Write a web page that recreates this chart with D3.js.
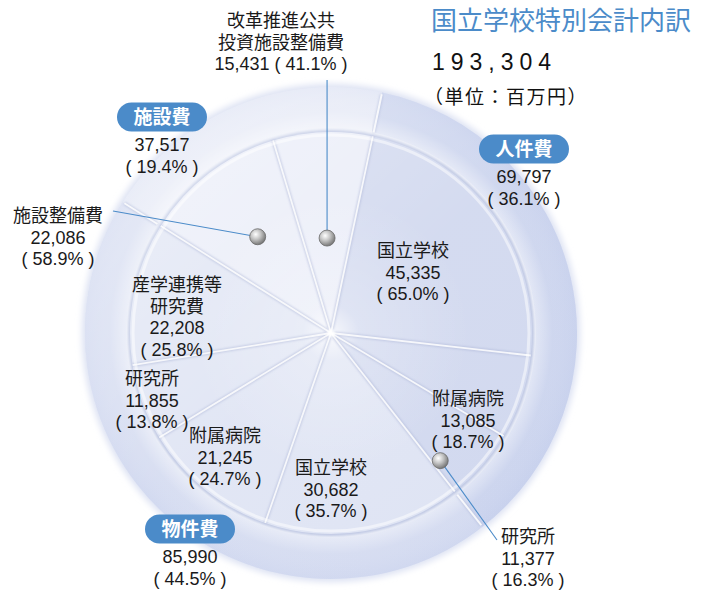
<!DOCTYPE html>
<html lang="ja">
<head>
<meta charset="utf-8">
<script src="https://cdn.jsdelivr.net/npm/d3@7"></script>
<style>
html,body{margin:0;padding:0;background:#fff;}
svg{display:block;}
</style>
</head>
<body>
<svg id="chart" width="709" height="590"></svg>
<script>
// 国立学校特別会計 内訳（単位：百万円）
const groups = ["人件費", "物件費", "施設費"];
const groupValues = [69797, 85990, 37517];
const itemGroups = ["人件費", "人件費", "人件費", "物件費", "物件費", "物件費", "物件費", "施設費", "施設費"];
const itemNames = ["国立学校", "附属病院", "研究所", "国立学校", "附属病院", "研究所", "産学連携等\n研究費", "施設整備費", "改革推進公共\n投資施設整備費"];
const itemValues = [45335, 13085, 11377, 30682, 21245, 11855, 22208, 22086, 15431];
const totalValue = 193304;
const titleText = "国立学校特別会計内訳";
const unitText = "（単位：百万円）";

// ---- layout ----
const W = 709, H = 590;
const cx = 331, cy = 333;
const rOuter = 246, rRingIn = 205, rPie = 201;
const startAngle = 12 * Math.PI / 180;
const lineH = 21.5;

const groupFill = { "人件費": "#c9d2ed", "物件費": "#d3daf0", "施設費": "#e3e7f5" };
const itemFill = { "人件費": "#d2d9ef", "物件費": "#e0e5f4", "施設費": "#eaedf8" };
const blue = "#4b8bc9";

// badge centres for the three groups (same order as groups)
const badgePos = [[524, 149], [190, 529], [162, 117]];
// label anchors (centre x, first baseline) for each item
const itemLabelPos = [[413, 257], [468, 405], [528, 543], [331, 474], [225, 442], [152, 385], [177, 291], [58, 222], [281, 27]];
// items whose label sits outside the slice:
// marker radius, position across the slice (0..1) and leader end
const callouts = {
  2: { r: 168, t: 0.88, end: [497, 540] },
  7: { r: 121, t: 0.5, end: [113, 211] },
  8: { r: 95, t: 0.5, endY: 80 }
};
const inlineShare = { 8: true };

const fmtNum = d3.format(",");
const fmtPct = d3.format(".1%");
const paren = p => "( " + p + " )";

const svg = d3.select("#chart");
const defs = svg.append("defs");

function blurFilter(id, sd) {
  const f = defs.append("filter").attr("id", id)
    .attr("x", "-20%").attr("y", "-20%").attr("width", "140%").attr("height", "140%");
  f.append("feGaussianBlur").attr("stdDeviation", sd);
}
blurFilter("soft", 3);
blurFilter("lineBlur", 1.1);
blurFilter("lineBlur2", 0.6);

// lighting: bright upper-left, slightly bluer lower-right
const light = defs.append("linearGradient").attr("id", "light")
  .attr("x1", "0.1").attr("y1", "0.05").attr("x2", "0.9").attr("y2", "0.95");
light.append("stop").attr("offset", "0").attr("stop-color", "#ffffff").attr("stop-opacity", 0.4);
light.append("stop").attr("offset", "0.5").attr("stop-color", "#ffffff").attr("stop-opacity", 0.05);
light.append("stop").attr("offset", "1").attr("stop-color", "#c0cbec").attr("stop-opacity", 0.1);

const centreGlow = defs.append("radialGradient").attr("id", "centreGlow");
centreGlow.append("stop").attr("offset", "0").attr("stop-color", "#ffffff").attr("stop-opacity", 0.8);
centreGlow.append("stop").attr("offset", "0.2").attr("stop-color", "#ffffff").attr("stop-opacity", 0.25);
centreGlow.append("stop").attr("offset", "1").attr("stop-color", "#ffffff").attr("stop-opacity", 0);

const ringShade = defs.append("radialGradient").attr("id", "ringShade")
  .attr("gradientUnits", "userSpaceOnUse").attr("cx", 0).attr("cy", 0).attr("r", rOuter);
ringShade.append("stop").attr("offset", rRingIn / rOuter).attr("stop-color", "#ffffff").attr("stop-opacity", 0.45);
ringShade.append("stop").attr("offset", 0.9).attr("stop-color", "#ffffff").attr("stop-opacity", 0.08);
ringShade.append("stop").attr("offset", 1).attr("stop-color", "#c3cdec").attr("stop-opacity", 0.15);

const ball = defs.append("radialGradient").attr("id", "ball").attr("cx", "0.38").attr("cy", "0.35").attr("r", "0.7");
ball.append("stop").attr("offset", "0").attr("stop-color", "#ffffff");
ball.append("stop").attr("offset", "0.45").attr("stop-color", "#c4c4c4");
ball.append("stop").attr("offset", "1").attr("stop-color", "#6e6e6e");

const g = svg.append("g").attr("transform", `translate(${cx},${cy})`);

// soft halo around the disc
g.append("circle").attr("r", rOuter + 3).attr("fill", "#dde2f3").attr("filter", "url(#soft)");

const pie = d3.pie().sort(null).value(d => d).startAngle(startAngle).endAngle(startAngle + 2 * Math.PI);
const groupArcs = pie(groupValues);
const itemArcs = pie(itemValues);

const ringArc = d3.arc().innerRadius(rRingIn).outerRadius(rOuter);
const pieArc = d3.arc().innerRadius(0).outerRadius(rPie);

// outer ring: the three expense groups
g.selectAll("path.ring").data(groupArcs).enter().append("path")
  .attr("class", "ring")
  .attr("d", ringArc)
  .attr("fill", (d, i) => groupFill[groups[i]]);
g.append("circle").attr("r", rOuter).attr("fill", "url(#ringShade)");

// groove between ring and inner pie
g.append("circle").attr("r", rRingIn - 2).attr("fill", "#bfc8e3").attr("filter", "url(#lineBlur)");

// inner pie: breakdown of each group
g.selectAll("path.item").data(itemArcs).enter().append("path")
  .attr("class", "item")
  .attr("d", pieArc)
  .attr("fill", (d, i) => itemFill[itemGroups[i]]);

g.append("circle").attr("r", rOuter).attr("fill", "url(#light)");
g.append("circle").attr("r", 140).attr("fill", "url(#centreGlow)");

// slice dividers (soft embossed lines)
function ray(angle, r0, r1) {
  const s = Math.sin(angle), c = -Math.cos(angle);
  return `M${r0 * s},${r0 * c}L${r1 * s},${r1 * c}`;
}
const itemBounds = itemArcs.map(d => d.startAngle);
const groupBounds = groupArcs.map(d => d.startAngle);

const divs = g.append("g");
divs.selectAll("path.shadow").data(itemBounds).enter().append("path")
  .attr("d", a => ray(a, 4, rPie))
  .attr("stroke", "#a9b3d6").attr("stroke-opacity", 0.55).attr("stroke-width", 3.5)
  .attr("fill", "none").attr("filter", "url(#lineBlur)");
divs.selectAll("path.hi").data(itemBounds).enter().append("path")
  .attr("d", a => ray(a, 0, rPie))
  .attr("stroke", "#ffffff").attr("stroke-opacity", 0.85).attr("stroke-width", 1.8)
  .attr("fill", "none").attr("filter", "url(#lineBlur2)");
divs.selectAll("path.gshadow").data(groupBounds).enter().append("path")
  .attr("d", a => ray(a, rRingIn, rOuter - 2))
  .attr("stroke", "#a9b3d6").attr("stroke-opacity", 0.5).attr("stroke-width", 3.5)
  .attr("fill", "none").attr("filter", "url(#lineBlur)");
divs.selectAll("path.ghi").data(groupBounds).enter().append("path")
  .attr("d", a => ray(a, rRingIn, rOuter - 2))
  .attr("stroke", "#ffffff").attr("stroke-opacity", 0.85).attr("stroke-width", 2)
  .attr("fill", "none").attr("filter", "url(#lineBlur2)");

// inner highlight just inside the groove
g.append("circle").attr("r", rPie - 3).attr("fill", "none")
  .attr("stroke", "#ffffff").attr("stroke-opacity", 0.5).attr("stroke-width", 3).attr("filter", "url(#lineBlur2)");

// ---- text ----
const numFont = "'Liberation Sans', 'Noto Sans CJK JP', Arial, sans-serif";
const jpFont = "'Noto Sans CJK JP', 'Liberation Sans', sans-serif";

svg.append("text").attr("x", 431).attr("y", 30)
  .attr("font-family", jpFont).attr("font-size", 26).attr("fill", blue)
  .text(titleText);
svg.append("text").attr("x", 432).attr("y", 70)
  .attr("font-family", numFont).attr("font-size", 23).attr("letter-spacing", 6).attr("fill", "#111")
  .text(fmtNum(totalValue));
svg.append("text").attr("x", 424).attr("y", 104)
  .attr("font-family", jpFont).attr("font-size", 19).attr("letter-spacing", 1.5).attr("fill", "#111")
  .text(unitText);

// callout leaders and markers
Object.keys(callouts).forEach(k => {
  const i = +k, c = callouts[i];
  const d = itemArcs[i];
  const a = d.startAngle + c.t * (d.endAngle - d.startAngle);
  const px = cx + c.r * Math.sin(a), py = cy - c.r * Math.cos(a);
  const end = c.end ? c.end : [px, c.endY];
  svg.append("line").attr("x1", px).attr("y1", py).attr("x2", end[0]).attr("y2", end[1])
    .attr("stroke", blue).attr("stroke-width", 1.1);
  svg.append("circle").attr("cx", px).attr("cy", py).attr("r", 8)
    .attr("fill", "url(#ball)").attr("stroke", "#6a6a6a").attr("stroke-width", 0.8);
});

// item labels
itemValues.forEach((v, i) => {
  const groupIdx = groups.indexOf(itemGroups[i]);
  const share = v / groupValues[groupIdx];
  const lines = itemNames[i].split("\n");
  if (inlineShare[i]) {
    lines.push(fmtNum(v) + " " + paren(fmtPct(share)));
  } else {
    lines.push(fmtNum(v), paren(fmtPct(share)));
  }
  const [x, y] = itemLabelPos[i];
  const t = svg.append("text").attr("text-anchor", "middle")
    .attr("font-family", numFont).attr("font-size", 18).attr("fill", "#1a1a1a");
  lines.forEach((ln, j) => {
    t.append("tspan").attr("x", x).attr("y", y + j * lineH).text(ln);
  });
});

// group badges with totals
groups.forEach((name, i) => {
  const [bx, by] = badgePos[i];
  svg.append("rect").attr("x", bx - 45).attr("y", by - 14.5).attr("width", 90).attr("height", 29)
    .attr("rx", 14.5).attr("fill", blue);
  svg.append("text").attr("x", bx).attr("y", by + 7).attr("text-anchor", "middle")
    .attr("font-family", jpFont).attr("font-size", 19).attr("font-weight", 700).attr("fill", "#fff")
    .text(name);
  const t = svg.append("text").attr("text-anchor", "middle")
    .attr("font-family", numFont).attr("font-size", 18).attr("fill", "#1a1a1a");
  t.append("tspan").attr("x", bx).attr("y", by + 34).text(fmtNum(groupValues[i]));
  t.append("tspan").attr("x", bx).attr("y", by + 56).text(paren(fmtPct(groupValues[i] / totalValue)));
});
</script>
</body>
</html>
